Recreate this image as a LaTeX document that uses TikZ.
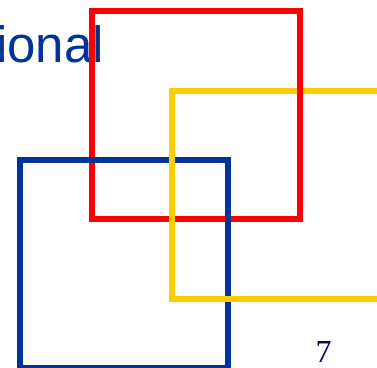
\documentclass[tikz,border=0pt]{standalone}
\usepackage{fontspec}
\setmainfont{Liberation Serif}
\setsansfont{Liberation Sans}
\definecolor{slideblue}{HTML}{003399}
\definecolor{slidered}{HTML}{FF0000}
\definecolor{slideyellow}{HTML}{FFCC00}
\definecolor{slidenavy}{HTML}{000066}

\begin{document}
\begin{tikzpicture}[x=1pt, y=-1pt,
    frame/.style={line width=6.5pt},
    title/.style={font=\fontsize{51}{56}\selectfont\sffamily, text=slideblue, inner sep=0pt},
    pagenum/.style={font=\fontsize{32}{36}\selectfont, text=slidenavy, inner sep=0pt}]
  \useasboundingbox (0,0) rectangle (377,367);
  % title, cut at the left edge
  \node[title, anchor=base east] (ttl) at (104,62) {ional};
  % three squares, overlapping
  \draw[frame, slidered] (92,11) rectangle (300,219);
  \draw[frame, slideblue] (20,160) rectangle (228,368);
  \draw[frame, slideyellow] (172,91) rectangle (380,299);
  \draw[frame, slidered] (300,70) -- (300,110);
  % page number
  \node[pagenum, anchor=base] (num) at (323.5,362) {7};
\end{tikzpicture}
\end{document}
